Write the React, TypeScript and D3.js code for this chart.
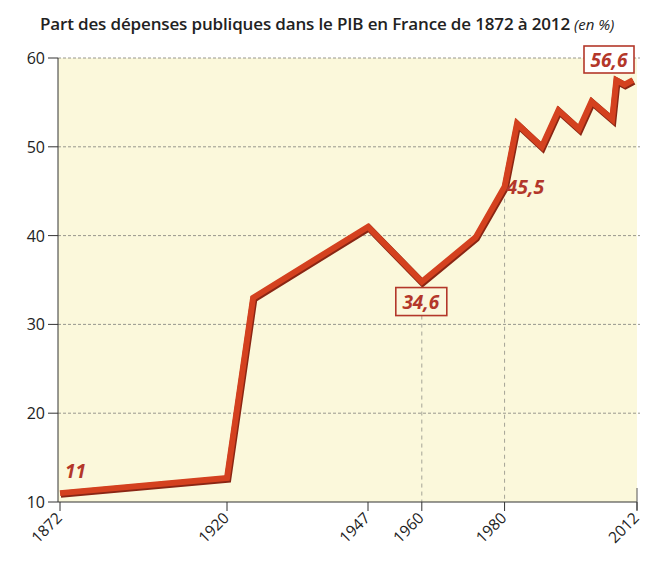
import React from "react";
import * as d3 from "d3";

const years = [1872, 1920, 1925, 1947, 1960, 1973, 1980, 1983, 1989, 1993, 1998, 2001, 2004, 2006, 2007, 2009, 2011];
const values = [11, 12.7, 33, 41, 34.8, 39.8, 45.5, 52.6, 50, 54.1, 52, 55.1, 53.9, 53.1, 57.5, 57, 57.5];
const xTickYears = [1872, 1920, 1947, 1960, 1980, 2012];
const yTicks = [10, 20, 30, 40, 50, 60];
const annotations = [
  { year: 1872, value: 11, text: "11", boxed: false },
  { year: 1960, value: 34.6, text: "34,6", boxed: true },
  { year: 1980, value: 45.5, text: "45,5", boxed: false },
  { year: 2012, value: 56.6, text: "56,6", boxed: true },
];

const W = 645;
const H = 562;

export default function App() {
  // piecewise axis as in the original (uneven spacing of tick years)
  const x = d3.scaleLinear().domain([1872, 1920, 1947, 2012]).range([60, 227, 368, 637]);
  const y = d3.scaleLinear().domain([10, 60]).range([502, 58]);
  const line = d3.line<number>().x((d, i) => x(years[i])).y((d) => y(d));
  const path = line(values) || "";
  const red = "#d4411f";
  const textRed = "#b3372a";
  const font = "'Open Sans', 'Noto Sans', sans-serif";

  const ann = (a: typeof annotations[number]) => {
    if (a.text === "11") {
      return <text key={a.text} x={x(a.year) + 5} y={y(a.value) - 15} fill={textRed} fontSize={19} fontWeight={700} fontStyle="italic" fontFamily={font}>{a.text}</text>;
    }
    if (a.text === "34,6") {
      const cx = x(a.year);
      const cy = y(a.value) + 18;
      return (
        <g key={a.text}>
          <rect x={cx - 26} y={cy - 14} width={51} height={28} fill="#fbf7dc" stroke={textRed} strokeWidth={1.6} />
          <text x={cx - 1} y={cy + 7} textAnchor="middle" fill={textRed} fontSize={19} fontWeight={700} fontStyle="italic" fontFamily={font}>{a.text}</text>
        </g>
      );
    }
    if (a.text === "45,5") {
      return <text key={a.text} x={x(a.year) + 2} y={y(a.value) + 7} fill={textRed} fontSize={19.5} fontWeight={700} fontStyle="italic" fontFamily={font}>{a.text}</text>;
    }
    const cx = x(a.year) - 28;
    const cy = y(60) + 2;
    return (
      <g key={a.text}>
        <rect x={cx - 25} y={cy - 14} width={50} height={27} fill="#ffffff" stroke={textRed} strokeWidth={1.6} />
        <text x={cx} y={cy + 7} textAnchor="middle" fill={textRed} fontSize={19} fontWeight={700} fontStyle="italic" fontFamily={font}>{a.text}</text>
      </g>
    );
  };

  return (
    <svg width={W} height={H} style={{ position: "absolute", left: 0, top: 0, background: "#ffffff" }}>
      <text x={40} y={30} fontFamily={font} fontSize={17} fontWeight={600} letterSpacing={-0.15} fill="#222">
        Part des dépenses publiques dans le PIB en France de 1872 à 2012
        <tspan fontWeight={400} fontStyle="italic" fontSize={15} letterSpacing={0}> (en %)</tspan>
      </text>
      <rect x={x(1872) - 2} y={y(60)} width={x(2012) - x(1872) + 2} height={y(10) - y(60)} fill="#fbf8db" />
      {yTicks.filter((t) => t > 10).map((t) => (
        <line key={t} x1={x(1872) - 2} x2={x(2012) + 3} y1={y(t)} y2={y(t)} stroke="#8c8c84" strokeWidth={0.9} strokeDasharray="3,2" />
      ))}
      <line x1={x(1960)} x2={x(1960)} y1={y(34.6) + 32} y2={y(10)} stroke="#9a9a90" strokeWidth={0.9} strokeDasharray="4,4" />
      <line x1={x(1980)} x2={x(1980)} y1={y(45.5) + 12} y2={y(10)} stroke="#9a9a90" strokeWidth={0.9} strokeDasharray="4,4" />
      {/* axes */}
      <line x1={x(1872) - 2} x2={x(1872) - 2} y1={y(60)} y2={y(10)} stroke="#333" strokeWidth={1} />
      <line x1={x(1872) - 2} x2={x(2012)} y1={y(10)} y2={y(10)} stroke="#333" strokeWidth={1.2} />
      <line x1={x(2012)} x2={x(2012)} y1={y(10) - 14} y2={y(10) + 8} stroke="#555" strokeWidth={1} />
      {yTicks.map((t) => (
        <g key={t}>
          <line x1={x(1872) - 12} x2={x(1872) - 2} y1={y(t)} y2={y(t)} stroke="#333" strokeWidth={1} />
          <text x={x(1872) - 15} y={y(t) + 6} textAnchor="end" fontFamily={font} fontSize={16} fill="#222">{t}</text>
        </g>
      ))}
      {xTickYears.map((t) => (
        <g key={t}>
          <line x1={x(t)} x2={x(t)} y1={y(10)} y2={y(10) + 9} stroke="#333" strokeWidth={1} />
          <text transform={`translate(${x(t) + 3},${y(10) + 17}) rotate(-45)`} textAnchor="end" fontFamily={font} fontSize={15.5} fill="#222">{t}</text>
        </g>
      ))}
      <path d={path} fill="none" stroke="#8a2614" strokeWidth={7} strokeLinejoin="miter" strokeMiterlimit={4} transform="translate(0.8,1.2)" />
      <path d={path} fill="none" stroke={red} strokeWidth={6} strokeLinejoin="miter" strokeMiterlimit={4} />
      {annotations.map(ann)}
    </svg>
  );
}
